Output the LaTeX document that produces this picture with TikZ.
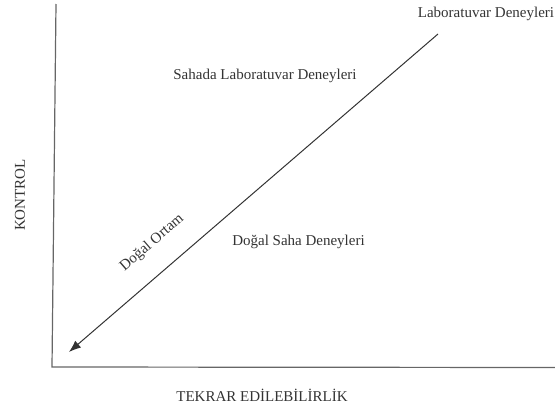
\documentclass[tikz,border=0pt]{standalone}
\usepackage{fontspec}
\setmainfont{Liberation Serif}
\usetikzlibrary{arrows.meta}

\tikzset{
  lbl/.style={font=\fontsize{15}{18}\selectfont,text=black!80,inner sep=0pt},
  axis/.style={draw=black!60,line width=1.2pt},
  diag/.style={draw=black!80,line width=1pt,-{Latex[length=12pt,width=9pt]}}
}

\begin{document}
\begin{tikzpicture}[x=1pt,y=-1pt]
\useasboundingbox (0,0) rectangle (555,410);
% axes
\coordinate (ytop) at (56,4);
\coordinate (orig) at (52,367);
\coordinate (xend) at (555,367.5);
\draw[axis] (ytop) -- (orig) -- (xend);
% diagonal
\coordinate (lab) at (438,34);
\coordinate (nat) at (69,352);
\draw[diag] (lab) -- (nat);

\node[lbl] (labd) at (486,14) {Laboratuvar Deneyleri};
\node[lbl] (sahalab) at (265,76) {Sahada Laboratuvar Deneyleri};
\node[lbl] (dsaha) at (298.5,242) {Doğal Saha Deneyleri};
\node[lbl,rotate=40.8] (ortam) at (152,243) {Doğal Ortam};
\node[lbl,rotate=90] (kontrol) at (20,195) {KONTROL};
\node[lbl] (tekrar) at (262,395) {TEKRAR EDİLEBİLİRLİK};

\end{tikzpicture}
\end{document}
